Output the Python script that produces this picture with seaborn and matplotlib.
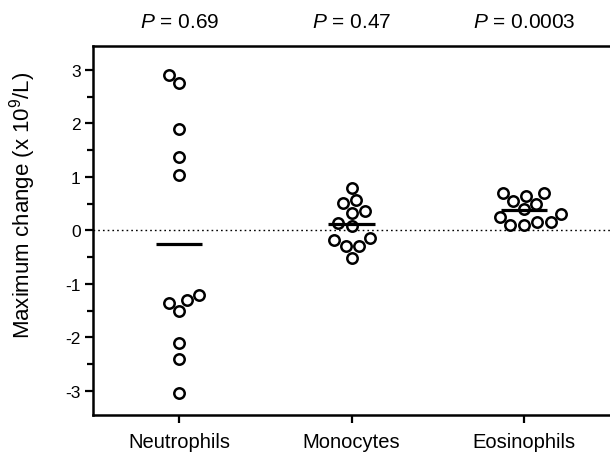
import matplotlib

matplotlib.use("Agg")
import matplotlib.pyplot as plt
import numpy as np
import pandas as pd
import seaborn as sns
from matplotlib.ticker import MultipleLocator

CATEGORIES = ["Neutrophils", "Monocytes", "Eosinophils"]
NEUTROPHILS = [2.9, 2.75, 1.9, 1.37, 1.03, -1.2, -1.3, -1.35, -1.5, -2.1, -2.4, -3.05]
MONOCYTES = [0.8, 0.57, 0.52, 0.36, 0.33, 0.13, 0.08, -0.15, -0.18, -0.3, -0.3, -0.52]
EOSINOPHILS = [0.7, 0.7, 0.65, 0.55, 0.5, 0.4, 0.3, 0.25, 0.15, 0.15, 0.1, 0.1]
P_LABELS = ["0.69", "0.47", "0.0003"]

data = pd.DataFrame({
    "cell": np.repeat(CATEGORIES, [len(NEUTROPHILS), len(MONOCYTES), len(EOSINOPHILS)]),
    "change": NEUTROPHILS + MONOCYTES + EOSINOPHILS,
})

sns.set_theme(style="ticks", rc={
    "text.color": "black", "axes.labelcolor": "black", "axes.edgecolor": "black",
    "xtick.color": "black", "ytick.color": "black",
})
plt.rcParams.update({
    "font.family": ["Liberation Sans", "DejaVu Sans"],
    "mathtext.fontset": "custom",
    "mathtext.rm": "Liberation Sans",
    "mathtext.it": "Liberation Sans:italic",
    "mathtext.bf": "Liberation Sans:bold",
    "axes.unicode_minus": False,
    "axes.linewidth": 1.8,
})

fig = plt.figure(figsize=(6.1, 4.56), dpi=100)
ax = fig.add_axes([0.1525, 0.088, 0.8475, 0.809])

ax.axhline(0, color="black", linestyle=(0, (1.2, 2.2)), linewidth=1.0, zorder=1)

sns.swarmplot(data=data, x="cell", y="change", order=CATEGORIES, ax=ax, size=7.5,
              color="white", edgecolor="black", linewidth=1.8, zorder=3)

means = data.groupby("cell")["change"].mean().reindex(CATEGORIES)
for i, m in enumerate(means):
    ax.plot([i - 0.135, i + 0.135], [m, m], color="black", linewidth=2.3, zorder=4,
            solid_capstyle="butt")

for i, p in enumerate(P_LABELS):
    ax.text(i, 1.066, f"$\\it{{P}}$ = {p}", transform=ax.get_xaxis_transform(),
            ha="center", va="center", fontsize=15)

ax.set_xlim(-0.5, 2.5)
ax.set_ylim(-3.45, 3.45)
ax.yaxis.set_major_locator(MultipleLocator(1))
ax.yaxis.set_minor_locator(MultipleLocator(0.5))
ax.tick_params(axis="y", which="major", length=6, width=1.6, labelsize=12.5, pad=3)
ax.tick_params(axis="y", which="minor", length=4, width=1.6)
ax.tick_params(axis="x", length=6, width=1.6, labelsize=14.5, pad=6)
ax.set_xlabel("")
ax.set_ylabel("Maximum change (x 10$^{9}$/L)", fontsize=16)
ax.yaxis.set_label_coords(-0.107, 0.57)
ax.spines["right"].set_visible(False)
ax.spines["top"].set_visible(True)

fig.savefig("out.png", dpi=100)
